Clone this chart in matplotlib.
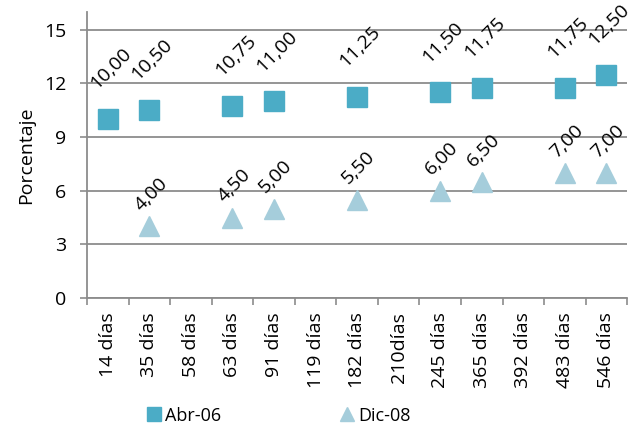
import numpy as np
import matplotlib
matplotlib.use('Agg')
import matplotlib.pyplot as plt

plt.rcParams['font.family'] = ['Open Sans', 'DejaVu Sans']

categories = ['14 días', '35 días', '58 días', '63 días', '91 días', '119 días',
              '182 días', '210días', '245 días', '365 días', '392 días', '483 días',
              '546 días']
abr06 = [10.00, 10.50, None, 10.75, 11.00, None, 11.25, None, 11.50, 11.75, None, 11.75, 12.50]
dic08 = [None, 4.00, None, 4.50, 5.00, None, 5.50, None, 6.00, 6.50, None, 7.00, 7.00]

grid_c = '#8c8c8c'

fig = plt.figure(figsize=(6.4, 4.26), dpi=100)
ax = fig.add_axes([0.136, 0.3005, 0.844, 0.6715])

x = np.arange(len(categories))


def fmt(v):
    return ('%.2f' % v).replace('.', ',')


def plot_series(vals, marker, color, label, ms, off):
    xs = [i for i, v in zip(x, vals) if v is not None]
    ys = [v for v in vals if v is not None]
    ax.plot(xs, ys, linestyle='none', marker=marker, ms=ms, color=color,
            mec=color, label=label, zorder=3)
    for xi, yi in zip(xs, ys):
        ax.annotate(fmt(yi), (xi, yi), xytext=off, textcoords='offset points',
                    rotation=45, rotation_mode='anchor', ha='left', va='bottom',
                    fontsize=14, color='black')


plot_series(abr06, 's', '#4bacc6', 'Abr-06', 14, (-6, 19))
plot_series(dic08, '^', '#a5cddb', 'Dic-08', 14, (-4, 8.5))

ax.set_xlim(-0.5, len(categories) - 0.5)
ax.set_ylim(0, 16)
ax.set_yticks(np.arange(0, 16, 3))
ax.tick_params(axis='y', labelsize=14, length=5, color=grid_c, width=1.2, pad=10)
ax.yaxis.grid(True, color=grid_c, linewidth=1.3)
ax.set_axisbelow(True)

ax.set_xticks(x)
ax.set_xticklabels(categories, rotation=90, fontsize=14)
ax.tick_params(axis='x', which='major', length=0, pad=10)
ax.set_xticks(np.arange(-0.5, len(categories), 1), minor=True)
ax.tick_params(axis='x', which='minor', length=5, color=grid_c, width=1.2)

for s in ['top', 'right']:
    ax.spines[s].set_visible(False)
for s in ['left', 'bottom']:
    ax.spines[s].set_color(grid_c)
    ax.spines[s].set_linewidth(1.3)

ax.set_ylabel('Porcentaje', fontsize=14, labelpad=6)

leg = fig.legend(loc='lower center', bbox_to_anchor=(0.434, -0.035), ncol=2, frameon=False,
                 fontsize=13, handletextpad=0.1, columnspacing=6.5, markerscale=0.7,
                 handlelength=1)

fig.savefig('out.png', dpi=100)
